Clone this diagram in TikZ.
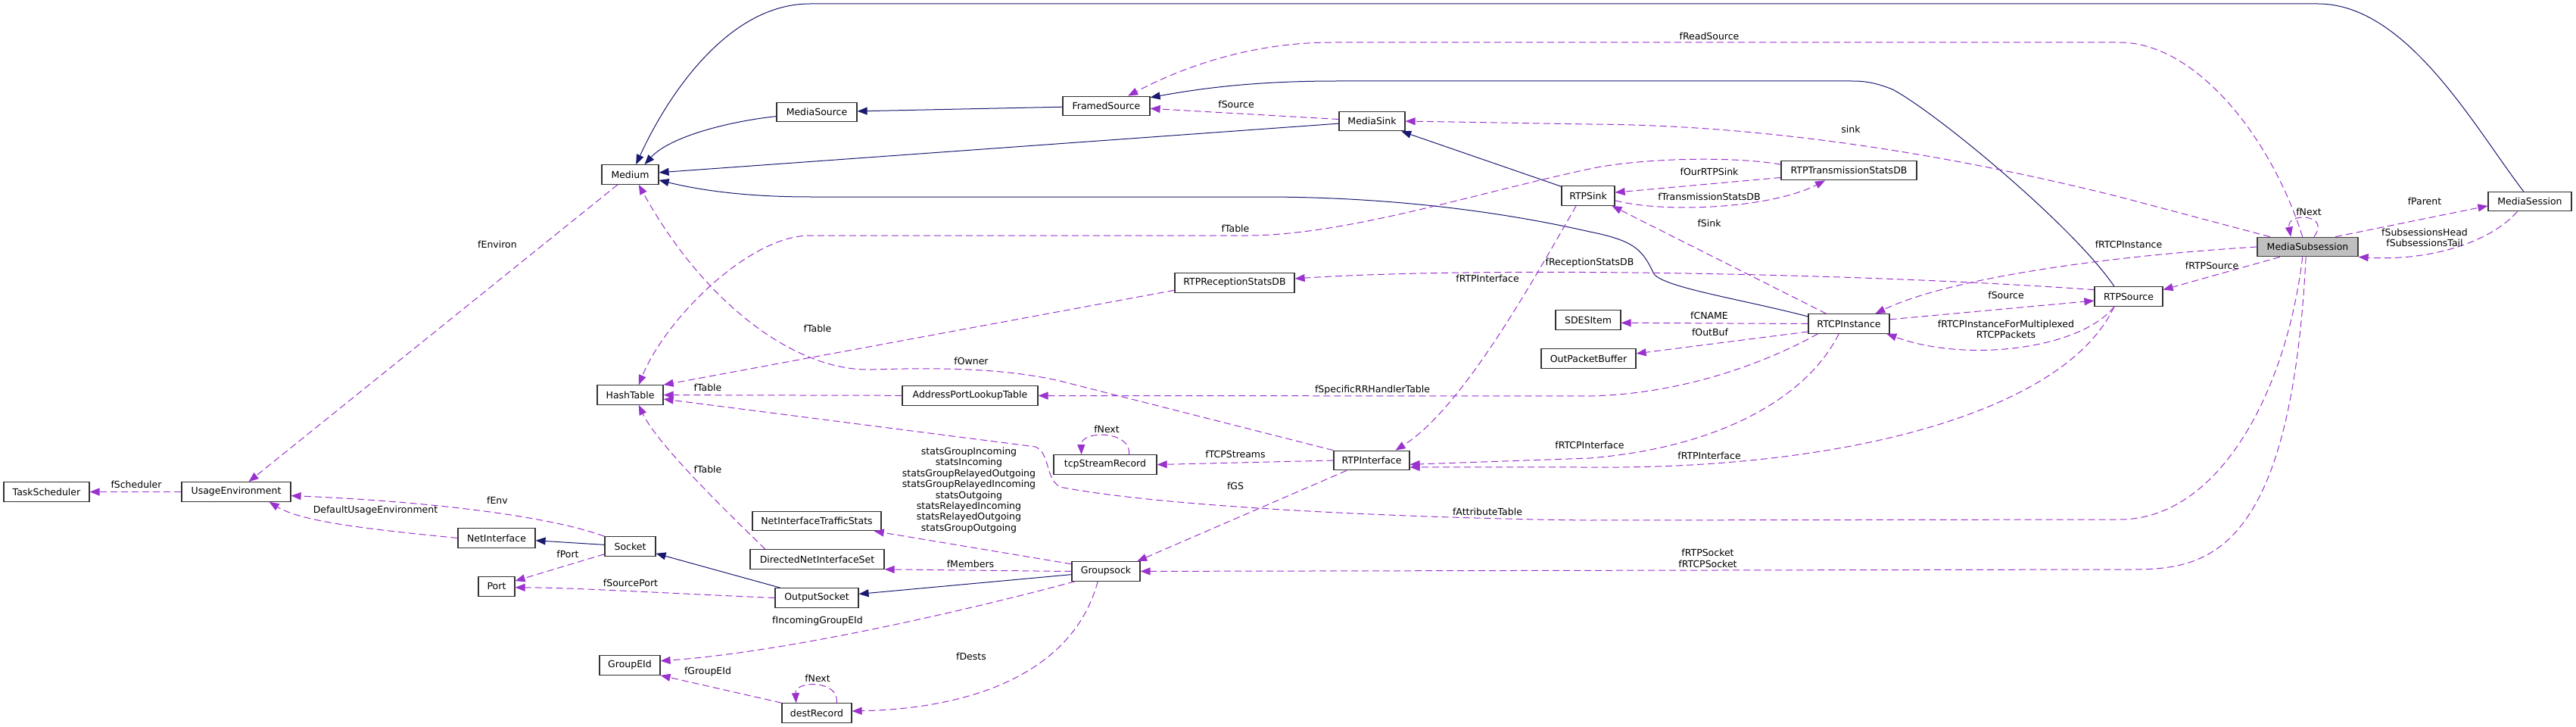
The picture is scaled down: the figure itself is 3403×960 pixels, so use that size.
\documentclass[tikz,border=0pt]{standalone}
\usepackage{fontspec}
\newfontfamily\dgfam{DejaVu Sans}
\newcommand{\dgfont}{\dgfam\fontsize{12.5}{14.5}\selectfont}
\usetikzlibrary{arrows.meta}
\definecolor{usecol}{HTML}{9A32CD}
\definecolor{inhcol}{HTML}{191970}
\definecolor{boxcol}{HTML}{333333}
\definecolor{mainfill}{HTML}{BFBFBF}
\begin{document}
\begin{tikzpicture}[x=1pt,y=-1pt,
 box/.style={draw=boxcol, line width=1.2pt, fill=white, minimum height=25.5pt, inner xsep=3pt, inner ysep=2pt, font=\dgfont},
 lbl/.style={inner sep=0pt, font=\dgfont, align=center},
 uedge/.style={draw=usecol, line width=1pt, dash pattern=on 9pt off 5pt, -{Triangle[length=13pt,width=10pt]}},
 iedge/.style={draw=inhcol, line width=1pt, -{Triangle[length=13pt,width=10pt]}}]
\path[use as bounding box, fill=white] (0,0) rectangle (3403,960);

% nodes
\node[box, minimum width=113pt] (ts) at (61.5,649.5) {TaskScheduler};
\node[box, minimum width=144pt] (uenv) at (312,649.5) {UsageEnvironment};
\node[box, minimum width=75pt] (medium) at (832.5,230.5) {Medium};
\node[box, minimum width=87pt] (hash) at (832.5,521.5) {HashTable};
\node[box, minimum width=102pt] (netif) at (656,710.5) {NetInterface};
\node[box, minimum width=48pt] (port) at (656,774.5) {Port};
\node[box, minimum width=80pt] (geid) at (832,878.5) {GroupEId};
\node[box, minimum width=67pt] (socket) at (832.5,721.5) {Socket};
\node[box, minimum width=110pt] (outsock) at (1079,789.5) {OutputSocket};
\node[box, minimum width=170pt] (nits) at (1079,688) {NetInterfaceTrafficStats};
\node[box, minimum width=177pt] (dnis) at (1079.5,738.5) {DirectedNetInterfaceSet};
\node[box, minimum width=92pt] (dest) at (1079,941.5) {destRecord};
\node[box, minimum width=179pt] (aplt) at (1281.5,522.5) {AddressPortLookupTable};
\node[box, minimum width=106pt] (msrc) at (1079,148) {MediaSource};
\node[box, minimum width=115pt] (fsrc) at (1461.5,140) {FramedSource};
\node[box, minimum width=158pt] (rtprecv) at (1631,373.5) {RTPReceptionStatsDB};
\node[box, minimum width=136pt] (tcp) at (1460,613.5) {tcpStreamRecord};
\node[box, minimum width=90pt] (gsock) at (1461,754.5) {Groupsock};
\node[box, minimum width=87pt] (msink) at (1812.5,160) {MediaSink};
\node[box, minimum width=100pt] (rtpif) at (1812,608) {RTPInterface};
\node[box, minimum width=70pt] (rtpsink) at (2098,258.5) {RTPSink};
\node[box, minimum width=86pt] (sdes) at (2098,422.5) {SDESItem};
\node[box, minimum width=125pt] (opb) at (2098.5,473.5) {OutPacketBuffer};
\node[box, minimum width=179pt] (rtptx) at (2442.5,225) {RTPTransmissionStatsDB};
\node[box, minimum width=107pt] (rtcp) at (2442.5,427.5) {RTCPInstance};
\node[box, minimum width=90pt] (rtpsrc) at (2812,391.5) {RTPSource};
\node[box, minimum width=133pt, fill=mainfill, draw=black!75] (msub) at (3048.5,326) {MediaSubsession};
\node[box, minimum width=110pt] (msession) at (3342,266) {MediaSession};

% inheritance
\draw[iedge] (msrc) .. controls (965,160) and (885,180) .. (medium.35);
\draw[iedge] (msession.122) .. controls (3270,170) and (3180,5) .. (3062,5) -- (1070,5) .. controls (960,5) and (880,130) .. (medium.60);
\draw[iedge] (msink) -- (medium.4);
\draw[iedge] (rtcp.170) .. controls (2300,395) and (2200,380) .. (2185,362) .. controls (2170,330) and (2160,318) .. (2100,306) .. controls (1950,272) and (1800,260) .. (1668,260) -- (1070,260) .. controls (980,260) and (920,250) .. (medium.-11);
\draw[iedge] (fsrc) -- (msrc);
\draw[iedge] (rtpsrc.145) .. controls (2740,300) and (2560,150) .. (2500,118) .. controls (2475,108) and (2460,107) .. (2446,107) -- (1766,107) .. controls (1650,107) and (1580,118) .. (fsrc.11);
\draw[iedge] (rtpsink) -- (msink);
\draw[iedge] (socket) -- (netif);
\draw[iedge] (outsock) -- (socket);
\draw[iedge] (gsock) -- (outsock);

% usage
\draw[uedge] (uenv) -- (ts);
\draw[uedge] (medium) -- (uenv);
\draw[uedge] (socket.north west) .. controls (720,680) and (560,662) .. (uenv.-4);
\draw[uedge] (netif.west) .. controls (500,700) and (400,690) .. (uenv.-17);
\draw[uedge] (socket) -- (port);
\draw[uedge] (outsock.west) .. controls (850,782) and (760,776) .. (port.-3);
\draw[uedge] (rtprecv.187) -- (hash.north east);
\draw[uedge] (aplt) -- (hash);
\draw[uedge] (dnis.169) .. controls (975,690) and (870,590) .. (hash.-50);
\draw[uedge] (rtptx.175) .. controls (2280,205) and (2160,210) .. (2100,223) .. controls (1950,255) and (1780,310) .. (1650,311) -- (1070,311) .. controls (990,311) and (880,420) .. (hash.50);
\draw[uedge] (msub.-117) .. controls (3020,520) and (2930,686) .. (2800,686) -- (2100,687) .. controls (1900,685) and (1550,672) .. (1400,643) .. controls (1380,630) and (1388,600) .. (1368,590) -- (hash.-7);
\draw[uedge] (rtpif.north west) -- (1400,503) .. controls (1330,487) and (1250,485) .. (1150,488) .. controls (1050,490) and (930,400) .. (medium.-50);
\draw[uedge] (msink) -- (fsrc);
\draw[uedge] (msub.117) .. controls (3000,180) and (2900,56) .. (2800,56) -- (1760,56) .. controls (1650,56) and (1560,90) .. (fsrc.25);
\draw[uedge] (msub.165) -- (2800,260) .. controls (2600,210) and (2350,165) .. (2100,164) -- (msink.east);
\draw[uedge] (rtptx.186) -- (rtpsink.7);
\draw[uedge] (rtpsink.-10) .. controls (2200,282) and (2340,275) .. (rtptx.-157);
\draw[uedge] (rtcp.156) -- (rtpsink.-23);
\draw[uedge] (rtpsrc.169) .. controls (2450,360) and (1950,352) .. (rtprecv.4);
\draw[uedge] (rtpsink.-140) .. controls (2020,380) and (1930,540) .. (rtpif.23);
\draw[uedge] (rtcp.west) -- (sdes.-5);
\draw[uedge] (rtcp.191) -- (opb.6);
\draw[uedge] (rtcp.-162) .. controls (2340,475) and (2230,520) .. (2100,523) -- (aplt.east);
\draw[uedge] (rtcp.-135) .. controls (2390,520) and (2280,590) .. (2100,605) -- (rtpif.-6);
\draw[uedge] (rtpsrc.-145) .. controls (2730,540) and (2450,620) .. (2100,617) -- (rtpif.-10);
\draw[uedge] (msub.west) .. controls (2800,337) and (2580,365) .. (rtcp.21);
\draw[uedge] (msub.-160) -- (rtpsrc.11);
\draw[uedge] (rtcp.6) -- (rtpsrc.187);
\draw[uedge] (rtpsrc.-145) .. controls (2750,460) and (2600,480) .. (rtcp.-15);
\draw[uedge] (msub.58) .. controls (3080,282) and (3020,280) .. (msub.149);
\draw[uedge] (msub.20) -- (msession.186);
\draw[uedge] (msession.-141) .. controls (3290,320) and (3210,345) .. (msub.south east);
\draw[uedge] (msub.-100) .. controls (3025,760) and (2900,752) .. (2800,752) -- (gsock);
\draw[uedge] (rtpif.-158) -- (gsock.18);
\draw[uedge] (rtpif.west) -- (tcp.east);
\draw[uedge] (tcp.23) .. controls (1495,568) and (1428,568) .. (tcp.157);
\draw[uedge] (gsock.168) -- (nits.-10);
\draw[uedge] (gsock.west) -- (dnis.south east);
\draw[uedge] (gsock.-162) .. controls (1300,800) and (1050,860) .. (geid.8);
\draw[uedge] (gsock.-129) .. controls (1420,880) and (1300,935) .. (dest.3);
\draw[uedge] (dest.north west) -- (geid.south east);
\draw[uedge] (dest.27) .. controls (1110,898) and (1050,898) .. (dest.154);

% labels
\node[lbl] (lfscheduler) at (180,640) {fScheduler};
\node[lbl] (lfenviron) at (657,323) {fEnviron};
\node[lbl] (lfenv) at (657,661) {fEnv};
\node[lbl] (ldefenv) at (496,674) {DefaultUsageEnvironment};
\node[lbl] (lfport) at (750,732) {fPort};
\node[lbl] (lfsrcport) at (833,770) {fSourcePort};
\node[lbl] (lftablea) at (1080,434) {fTable};
\node[lbl] (lftableb) at (935,512) {fTable};
\node[lbl] (lftablec) at (935,620) {fTable};
\node[lbl] (lftabled) at (1632,302) {fTable};
\node[lbl] (lfattr) at (1965,676) {fAttributeTable};
\node[lbl] (lfowner) at (1283,477) {fOwner};
\node[lbl] (lfsource) at (1633,138) {fSource};
\node[lbl] (lfreadsrc) at (2258,48) {fReadSource};
\node[lbl] (lsink) at (2445,171) {sink};
\node[lbl] (lfourrtp) at (2258,227) {fOurRTPSink};
\node[lbl] (lftxstats) at (2258,260) {fTransmissionStatsDB};
\node[lbl] (lfsink) at (2258,295) {fSink};
\node[lbl] (lfrecv) at (2100,347) {fReceptionStatsDB};
\node[lbl] (lfrtpifa) at (1965,368) {fRTPInterface};
\node[lbl] (lfcname) at (2258,417) {fCNAME};
\node[lbl] (lfoutbuf) at (2259,439) {fOutBuf};
\node[lbl] (lfsrrh) at (1813,515) {fSpecificRRHandlerTable};
\node[lbl] (lfrtcpif) at (2100,588) {fRTCPInterface};
\node[lbl] (lfrtpifb) at (2258,602) {fRTPInterface};
\node[lbl] (lfrtcpinst) at (2812,323) {fRTCPInstance};
\node[lbl] (lfrtpsrc) at (2922,351) {fRTPSource};
\node[lbl] (lfsourceb) at (2650,390) {fSource};
\node[lbl] (lfmux) at (2650,435) {fRTCPInstanceForMultiplexed\\RTCPPackets};
\node[lbl] (lfnexta) at (3050,280) {fNext};
\node[lbl] (lfparent) at (3203,266) {fParent};
\node[lbl] (lfsubs) at (3203,314) {fSubsessionsHead\\fSubsessionsTail};
\node[lbl] (lfsock) at (2256,737.5) {fRTPSocket\\fRTCPSocket};
\node[lbl] (lfgs) at (1632,642) {fGS};
\node[lbl] (lftcp) at (1632,600) {fTCPStreams};
\node[lbl] (lfnextb) at (1462,567) {fNext};
\node[lbl, font=\dgfam\fontsize{12.5}{14.4}\selectfont] (lstats) at (1280,647.5) {statsGroupIncoming\\statsIncoming\\statsGroupRelayedOutgoing\\statsGroupRelayedIncoming\\statsOutgoing\\statsRelayedIncoming\\statsRelayedOutgoing\\statsGroupOutgoing};
\node[lbl] (lfmembers) at (1282,745) {fMembers};
\node[lbl] (lfincoming) at (1080,820) {fIncomingGroupEId};
\node[lbl] (lfdests) at (1283,867) {fDests};
\node[lbl] (lfgroupeid) at (935,887) {fGroupEId};
\node[lbl] (lfnextc) at (1080,896) {fNext};
\end{tikzpicture}
\end{document}
